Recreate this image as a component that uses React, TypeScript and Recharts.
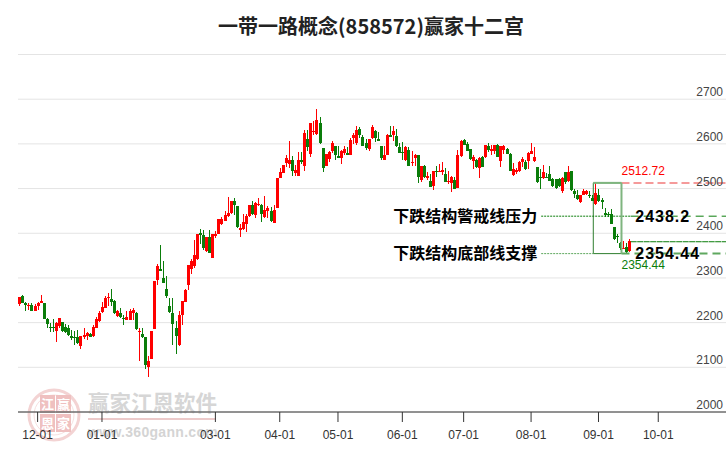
import {
  Bar,
  CartesianGrid,
  ComposedChart,
  ReferenceArea,
  ReferenceDot,
  ReferenceLine,
  XAxis,
  YAxis,
} from "recharts";

const opens = [
  2241,2259,2243,2238,2240,2225,2237,2243,2244,2207,
  2190,2190,2181,2192,2202,2190,2187,2171,2168,2168,
  2147,2168,2169,2175,2169,2187,2203,2223,2233,2256,
  2253,2248,2214,2222,2211,2205,2205,2222,2222,2178,
  2175,2167,2100,2118,2186,2295,2321,2299,2276,2238,
  2222,2188,2150,2216,2246,2284,2319,2327,2342,2401,
  2395,2361,2391,2344,2393,2398,2420,2428,2439,2445,
  2472,2461,2407,2410,2421,2439,2463,2441,2464,2463,
  2436,2450,2449,2423,2457,2524,2535,2557,2554,2564,
  2535,2529,2564,2551,2611,2577,2627,2621,2647,2590,
  2551,2567,2584,2595,2573,2569,2579,2580,2574,2613,
  2601,2634,2616,2601,2589,2613,2628,2610,2595,2565,
  2576,2620,2619,2617,2593,2582,2565,2586,2559,2569,
  2575,2520,2551,2524,2518,2505,2539,2538,2538,2533,
  2515,2512,2520,2502,2572,2609,2600,2588,2562,2564,
  2545,2571,2571,2595,2583,2585,2598,2562,2586,2589,
  2578,2531,2536,2539,2559,2559,2561,2578,2561,2549,
  2526,2523,2526,2533,2521,2521,2521,2495,2536,2516,
  2539,2495,2485,2469,2486,2488,2485,2479,2465,2485,
  2474,2445,2443,2443,2413,2394,2379,2366,2370,2360,
];

const highs = [
  2258,2261,2246,2243,2244,2241,2246,2261,2245,2210,
  2199,2207,2201,2211,2202,2198,2195,2183,2181,2183,
  2171,2188,2180,2177,2195,2213,2225,2246,2259,2267,
  2276,2250,2229,2233,2218,2225,2231,2232,2223,2188,
  2187,2168,2126,2182,2294,2331,2373,2338,2304,2256,
  2255,2203,2225,2249,2276,2330,2342,2386,2398,2410,
  2407,2392,2407,2399,2405,2433,2437,2449,2481,2473,
  2479,2461,2420,2443,2443,2463,2472,2470,2479,2465,
  2483,2460,2458,2463,2523,2545,2553,2574,2607,2573,
  2553,2581,2581,2630,2632,2647,2651,2679,2661,2591,
  2577,2585,2607,2595,2595,2586,2596,2594,2613,2624,
  2640,2638,2620,2611,2611,2643,2631,2626,2595,2595,
  2622,2640,2640,2634,2601,2604,2595,2593,2585,2577,
  2576,2551,2553,2536,2533,2539,2550,2555,2560,2545,
  2540,2529,2525,2587,2609,2612,2604,2589,2574,2566,
  2571,2572,2598,2602,2598,2598,2599,2596,2598,2591,
  2579,2557,2545,2562,2570,2565,2581,2602,2592,2549,
  2544,2553,2534,2550,2523,2522,2523,2525,2536,2550,
  2540,2498,2497,2486,2499,2497,2495,2485,2514,2500,
  2478,2457,2448,2455,2413,2398,2381,2383,2379,2387,
];

const lows = [
  2237,2243,2225,2228,2225,2225,2229,2243,2207,2187,
  2180,2178,2156,2187,2180,2177,2171,2162,2151,2153,
  2142,2163,2162,2167,2168,2187,2202,2222,2232,2238,
  2237,2220,2213,2211,2195,2205,2205,2205,2184,2115,
  2166,2096,2079,2118,2186,2285,2315,2288,2256,2222,
  2151,2129,2148,2195,2246,2274,2308,2322,2341,2375,
  2362,2359,2355,2344,2390,2398,2418,2428,2437,2443,
  2440,2411,2392,2407,2403,2437,2441,2434,2461,2425,
  2435,2434,2426,2422,2457,2523,2535,2549,2547,2528,
  2528,2528,2555,2539,2585,2571,2619,2620,2600,2538,
  2550,2560,2580,2565,2568,2554,2576,2574,2574,2600,
  2598,2613,2595,2587,2584,2610,2604,2607,2564,2564,
  2575,2615,2607,2594,2579,2565,2562,2551,2551,2551,
  2512,2514,2524,2519,2503,2497,2525,2536,2531,2515,
  2510,2493,2499,2501,2571,2598,2584,2564,2544,2545,
  2524,2548,2569,2581,2575,2578,2570,2548,2578,2577,
  2539,2529,2532,2538,2548,2542,2543,2577,2560,2512,
  2500,2521,2525,2517,2503,2500,2503,2490,2510,2514,
  2495,2479,2475,2467,2485,2486,2480,2472,2463,2470,
  2454,2437,2437,2420,2384,2378,2363,2364,2355,2358,
];

const closes = [
  2258,2244,2240,2240,2225,2238,2243,2249,2208,2196,
  2189,2189,2199,2211,2181,2179,2172,2165,2166,2154,
  2169,2173,2176,2168,2190,2208,2222,2235,2256,2257,
  2246,2222,2226,2212,2209,2212,2225,2229,2186,2182,
  2167,2106,2115,2182,2294,2326,2315,2289,2259,2223,
  2198,2171,2218,2249,2272,2330,2339,2352,2398,2396,
  2367,2392,2356,2399,2399,2431,2433,2440,2446,2473,
  2463,2414,2411,2426,2439,2463,2443,2467,2466,2443,
  2452,2456,2428,2452,2523,2537,2553,2568,2565,2540,
  2541,2564,2559,2625,2592,2647,2628,2654,2601,2547,
  2577,2581,2601,2576,2569,2585,2588,2574,2609,2620,
  2631,2620,2596,2591,2610,2638,2613,2607,2569,2575,
  2620,2616,2628,2596,2580,2580,2593,2551,2560,2575,
  2525,2550,2525,2528,2504,2539,2538,2540,2541,2515,
  2517,2526,2500,2575,2607,2598,2585,2566,2571,2548,
  2568,2548,2598,2586,2589,2598,2571,2595,2595,2578,
  2540,2544,2542,2560,2566,2544,2580,2584,2570,2514,
  2525,2538,2525,2518,2505,2502,2505,2524,2514,2536,
  2497,2487,2476,2485,2494,2494,2484,2473,2491,2472,
  2469,2440,2440,2421,2387,2392,2366,2368,2357,2383,
];

// trading day index of each month start
const monthIndexes = [6, 27, 64, 85, 104, 125, 145, 167, 189, 208.5];
const monthLabels = ["12-01", "01-01", "03-01", "04-01", "05-01", "06-01", "07-01", "08-01", "09-01", "10-01"];
const priceTicks = [2000, 2100, 2200, 2300, 2400, 2500, 2600, 2700];
const gridValues = [2000, 2100, 2200, 2300, 2400, 2500, 2600, 2700, 2800];

const boxTop = 2512.72;
const boxBottom = 2354.44;
const pressure = 2438.2;
const lastSupport = 2381;
const boxStart = 187.3;
const boxEnd = 196.5;
const guideStart = 170.3;
const xEnd = 230.6;

const UP = "#ff0000";
const DOWN = "#0a7d0a";
const SANS = "'Liberation Sans', Arial, sans-serif";
const CJK = "'Noto Sans CJK SC', sans-serif";

const data = opens.map((open, i) => ({
  i,
  open,
  high: highs[i],
  low: lows[i],
  close: closes[i],
}));

const Candle = (props: any) => {
  const { x, y, width, height, payload } = props;
  const { open, high, low, close } = payload;
  const perUnit = height / (high - low);
  const top = y + (high - Math.max(open, close)) * perUnit;
  const bodyHeight = Math.max(Math.abs(open - close) * perUnit, 1);
  const color = close >= open ? UP : DOWN;
  const cx = Math.round(x + width / 2);
  return (
    <g shapeRendering="crispEdges">
      <rect x={cx - 0.5} y={y} width={1} height={height} fill={color} />
      <rect x={cx - 1.5} y={top} width={3} height={bodyHeight} fill={color} />
    </g>
  );
};

const PriceTick = (props: any) => {
  const { y, payload } = props;
  return (
    <text x={723} y={y - 7} dy={4} textAnchor="end" fontSize={12} fontFamily={SANS} fill="#444">
      {payload.value}
    </text>
  );
};

const Watermark = () => (
  <svg width={726} height={450} style={{ position: "absolute", left: 0, top: 0 }}>
    <circle cx={54} cy={415} r={25} fill="none" stroke="#f3d3d3" strokeWidth={3} />
    <circle cx={54} cy={415} r={20} fill="none" stroke="#f7e0e0" strokeWidth={1} />
    <rect x={40} y={395} width={15} height={18} fill="#efc0c0" />
    <rect x={56} y={395} width={15} height={18} fill="#efc0c0" />
    <rect x={40} y={414} width={15} height={18} fill="#efc0c0" />
    <rect x={56} y={414} width={15} height={18} fill="#efc0c0" />
    <g fontFamily={CJK} fontSize={13} fontWeight={700} fill="#fff" textAnchor="middle">
      <text x={47.5} y={409}>江</text>
      <text x={63.5} y={409}>赢</text>
      <text x={47.5} y={428}>恩</text>
      <text x={63.5} y={428}>家</text>
    </g>
    <text x={88} y={411} fontFamily={CJK} fontSize={21.5} fontWeight={700} fill="#d6d6d6">赢家江恩软件</text>
    <rect x={88} y={418} width={128} height={2} fill="#eccaca" />
    <text x={88} y={437} fontFamily={SANS} fontSize={14} fontWeight={700} fill="#d4d4d4" letterSpacing={0.3}>
      www.360gann.com
    </text>
  </svg>
);

const note = (x: number, y: number, value: string, fill: string, fontSize: number, family: string, bold: boolean, spacing = 0) => (
  <ReferenceDot
    x={x}
    y={y}
    r={0}
    stroke="none"
    ifOverflow="visible"
    label={{
      value,
      position: "right",
      offset: 0,
      fill,
      fontSize,
      fontFamily: family,
      fontWeight: bold ? 700 : 400,
      letterSpacing: spacing,
    }}
  />
);

const guide = (y: number, from: number, to: number, color: string, dash: string, width = 1) => (
  <ReferenceLine
    segment={[{ x: from, y }, { x: to, y }]}
    stroke={color}
    strokeDasharray={dash}
    strokeWidth={width}
    ifOverflow="visible"
  />
);

export default function App() {
  return (
    <div style={{ position: "absolute", left: 0, top: 0, width: 726, height: 450, background: "#fff" }}>
      <Watermark />
      <div
        style={{
          position: "absolute",
          left: 218,
          top: 12,
          width: 306,
          textAlign: "center",
          fontFamily: CJK,
          fontSize: 20,
          lineHeight: "28px",
          fontWeight: 700,
          color: "#222",
          whiteSpace: "nowrap",
        }}
      >
        一带一路概念(858572)赢家十二宫
      </div>
      <div style={{ position: "absolute", left: 0, top: 0 }}>
        <ComposedChart
          width={726}
          height={450}
          data={data}
          margin={{ top: 54.5, right: -1, bottom: 0, left: 18 }}
        >
          <CartesianGrid horizontal vertical={false} horizontalValues={gridValues} stroke="#e4e4e4" />
          <XAxis
            dataKey="i"
            type="number"
            domain={[-0.4, xEnd]}
            ticks={monthIndexes}
            interval={0}
            tickSize={10}
            tickMargin={8}
            height={38}
            axisLine={{ stroke: "#333" }}
            tickLine={{ stroke: "#333" }}
            tick={{ fontSize: 12, fontFamily: SANS, fill: "#333" }}
            tickFormatter={(v: number) => monthLabels[monthIndexes.indexOf(v)]}
          />
          <YAxis
            orientation="right"
            width={1}
            domain={[2000, 2800]}
            ticks={priceTicks}
            interval={0}
            axisLine={false}
            tickLine={false}
            tick={(p: any) => <PriceTick {...p} />}
          />
          <Bar
            dataKey={(d: any) => [d.low, d.high]}
            barSize={3}
            isAnimationActive={false}
            shape={<Candle />}
          />

          {guide(boxTop, boxEnd, xEnd, "#f59a9a", "8 4", 2)}
          {guide(pressure, guideStart, boxEnd + 3, DOWN, "2 1")}
          {guide(pressure, boxEnd + 3, xEnd, DOWN, "8 5")}
          {guide(boxBottom, guideStart, boxStart, "#5fa85f", "2 1")}
          {guide(boxBottom, boxEnd, xEnd, "#5fa85f", "8 5", 2)}
          {guide(lastSupport, 199.5, xEnd, DOWN, "6 0.5")}
          <ReferenceArea
            x1={boxStart}
            x2={boxEnd}
            y1={boxBottom}
            y2={boxTop}
            fill="none"
            stroke="#2e7d2e"
            ifOverflow="visible"
          />
          {guide(boxTop, boxStart, boxEnd, "#7fb57f", "", 2)}
          <ReferenceLine
            segment={[{ x: boxEnd, y: boxBottom }, { x: boxEnd, y: boxTop }]}
            stroke="#7fb57f"
            strokeWidth={2}
            ifOverflow="visible"
          />

          {note(boxEnd, boxTop + 27, "2512.72", "#ff0000", 12, SANS, false)}
          {note(boxEnd, boxBottom - 25, "2354.44", "#0a7d0a", 12, SANS, false)}
          {note(201, pressure, "2438.2", "#000", 16, SANS, true, 1)}
          {note(201, boxBottom, "2354.44", "#000", 16, SANS, true, 1)}
          {note(122, pressure, "下跌结构警戒线压力", "#000", 16, CJK, true)}
          {note(122, boxBottom, "下跌结构底部线支撑", "#000", 16, CJK, true)}
        </ComposedChart>
      </div>
    </div>
  );
}
